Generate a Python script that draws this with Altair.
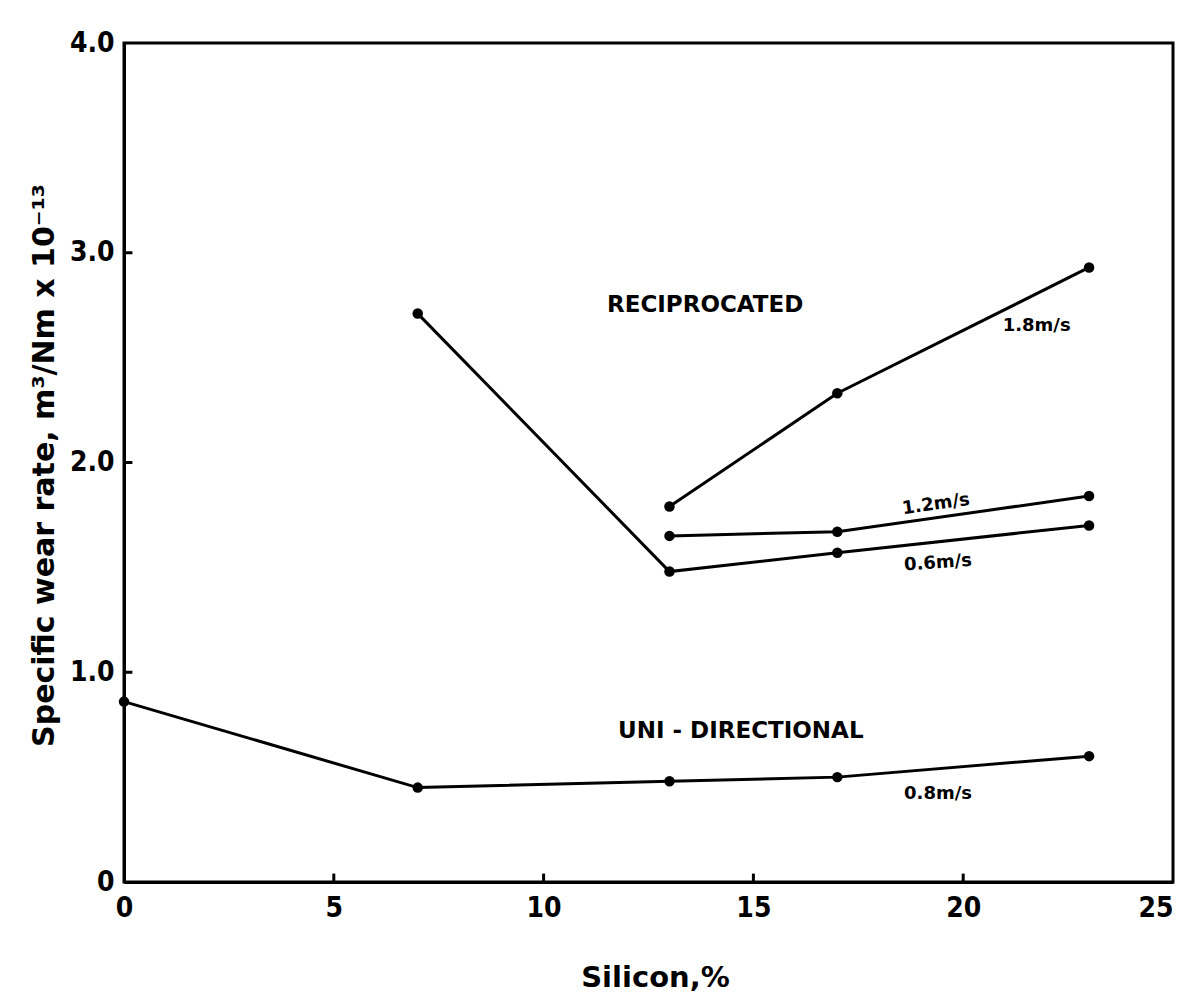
import altair as alt
import pandas as pd

# Silicon content (%) and specific wear rate (m^3/Nm x 10^-13) per test condition
recip_06_si = [7, 13, 17, 23]
recip_06_wr = [2.71, 1.48, 1.57, 1.70]

recip_12_si = [13, 17, 23]
recip_12_wr = [1.65, 1.67, 1.84]

recip_18_si = [13, 17, 23]
recip_18_wr = [1.79, 2.33, 2.93]

uni_08_si = [0, 7, 13, 17, 23]
uni_08_wr = [0.86, 0.45, 0.48, 0.50, 0.60]

x_ticks = [0, 5, 10, 15, 20, 25]
y_ticks = [0, 1, 2, 3, 4]

# Annotation texts with their positions in data units
ann_text = ["RECIPROCATED", "1.8m/s", "1.2m/s", "0.6m/s", "UNI - DIRECTIONAL", "0.8m/s"]
ann_x = [13.85, 21.75, 19.35, 19.4, 14.7, 19.4]
ann_y = [2.75, 2.65, 1.80, 1.52, 0.72, 0.42]
ann_size = [23, 18, 18, 18, 23, 18]
ann_angle = [0, 0, 352, 356, 0, 0]

FONT = "DejaVu Sans Condensed, Liberation Sans Narrow, DejaVu Sans, sans-serif"
WIDE = "DejaVu Sans, Verdana, sans-serif"

rows = []
for name, xs, ys in [
    ("recip 0.6", recip_06_si, recip_06_wr),
    ("recip 1.2", recip_12_si, recip_12_wr),
    ("recip 1.8", recip_18_si, recip_18_wr),
    ("uni 0.8", uni_08_si, uni_08_wr),
]:
    for xv, yv in zip(xs, ys):
        rows.append({"series": name, "si": xv, "wr": yv})
df = pd.DataFrame(rows)

ann = pd.DataFrame({"t": ann_text, "x": ann_x, "y": ann_y, "s": ann_size, "a": ann_angle})

xs = alt.Scale(domain=[0, 25], nice=False, zero=False)
ys = alt.Scale(domain=[0, 4], nice=False, zero=False)

x_axis = alt.Axis(
    values=x_ticks, title="Silicon,%", grid=False, ticks=False,
    labelFont=FONT, labelFontSize=28, labelFontWeight="bold", labelPadding=12,
    labelColor="black", domainColor="black", domainWidth=3,
    labelAlign={"expr": "datum.value == 25 ? 'right' : 'center'"},
    titleFont=WIDE, titleFontSize=29, titleFontWeight="bold", titleColor="black",
    titleX=531, titleY=95, titleBaseline="middle", titleAlign="center",
    labelFlush=False,
)
y_axis = alt.Axis(
    values=y_ticks, title="Specific  wear  rate,  m³/Nm x 10⁻¹³", grid=False, ticks=False,
    labelExpr="datum.value == 0 ? '0' : format(datum.value, '.1f')",
    labelFont=FONT, labelFontSize=28, labelFontWeight="bold", labelPadding=10,
    labelColor="black", domainColor="black", domainWidth=3,
    titleFont=WIDE, titleFontSize=30, titleFontWeight="bold", titleColor="black",
    titleAngle=270, titleX=-80, titleY=422, titleBaseline="middle", titleAlign="center",
    labelFlush=False,
)

base = alt.Chart(df)

lines = base.mark_line(color="black", strokeWidth=3).encode(
    x=alt.X("si:Q", scale=xs, axis=x_axis),
    y=alt.Y("wr:Q", scale=ys, axis=y_axis),
    detail="series:N",
)
points = base.mark_circle(color="black", opacity=1, size=110).encode(
    x=alt.X("si:Q", scale=xs),
    y=alt.Y("wr:Q", scale=ys),
)

# short inward ticks on both axes
xt = pd.DataFrame({"v": [5, 10, 15, 20], "y0": [0] * 4, "y1": [0.04] * 4})
yt = pd.DataFrame({"v": [1, 2, 3], "x0": [0] * 3, "x1": [0.2] * 3})
x_tick_marks = alt.Chart(xt).mark_rule(color="black", strokeWidth=3).encode(
    x=alt.X("v:Q", scale=xs), y=alt.Y("y0:Q", scale=ys), y2="y1:Q"
)
y_tick_marks = alt.Chart(yt).mark_rule(color="black", strokeWidth=3).encode(
    y=alt.Y("v:Q", scale=ys), x=alt.X("x0:Q", scale=xs), x2="x1:Q"
)

labels = alt.Chart(ann).mark_text(
    font=WIDE, fontWeight="bold", color="black", align="center", baseline="middle"
).encode(
    x=alt.X("x:Q", scale=xs),
    y=alt.Y("y:Q", scale=ys),
    text="t:N",
    size=alt.Size("s:Q", scale=None, legend=None),
    angle=alt.Angle("a:Q", scale=None),
)

chart = (
    alt.layer(lines, points, x_tick_marks, y_tick_marks, labels)
    .properties(
        width=1049,
        height=839,
        autosize=alt.AutoSizeParams(type="none"),
        padding={"left": 124, "top": 43, "right": 11, "bottom": 123},
        background="white",
    )
    .configure_view(stroke="black", strokeWidth=3)
)

chart.save("out.html", embed_options={"renderer": "svg", "actions": False})
